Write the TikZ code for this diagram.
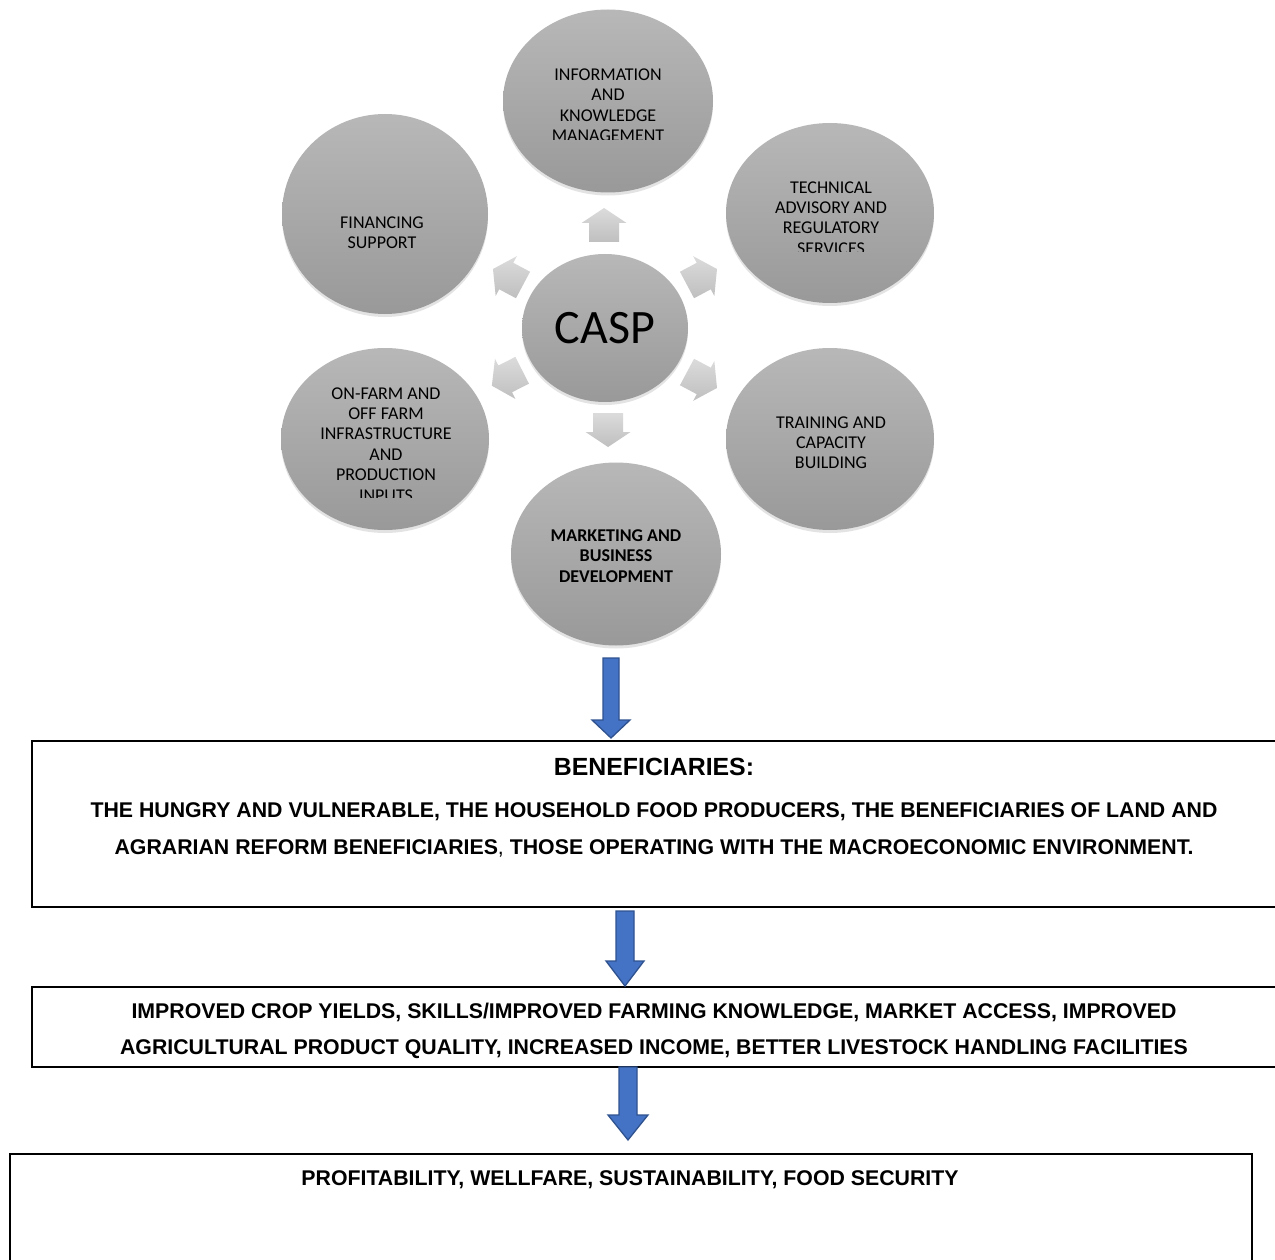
\documentclass[tikz,border=0pt]{standalone}
\usepackage{fontspec}
\setmainfont{Carlito}
\newfontfamily\arialfont{Liberation Sans}
\usetikzlibrary{shapes.geometric,shadows,calc}
\definecolor{bluefill}{HTML}{4472C4}
\definecolor{blueline}{HTML}{2F528F}
\tikzset{
  bubble/.style={ellipse, inner sep=0pt, draw=none, top color=gray!56, bottom color=gray!80,
    drop shadow={shadow xshift=0pt, shadow yshift=-3pt, opacity=0.22}},
  bubtext/.style={align=center, inner sep=0pt, anchor=north, font=\fontsize{18}{20.4}\selectfont},
  grayarr/.style={top color=gray!28, bottom color=gray!50, draw=none},
  frame/.style={draw=black, line width=1.6pt, rectangle, inner sep=0pt},
  boxtext/.style={align=center, inner sep=0pt, anchor=north, font=\arialfont\bfseries\fontsize{21.3}{37}\selectfont},
  bluearrow/.style={fill=bluefill, draw=blueline, line width=1.3pt, line join=miter}
}
\newcommand\grayarrow[2]{%
  \begin{scope}[shift={#1}, rotate=#2-90]
    \path[grayarr] (0,17) -- (22.5,2) -- (15,2) -- (15,-17) -- (-15,-17) -- (-15,2) -- (-22.5,2) -- cycle;
  \end{scope}}
\newcommand\bluearr[5]{%
  \path[bluearrow] ($(#1)+(-#4,0)$) -- ($(#1)+(#4,0)$) -- ($(#2)+(#4,#3)$) -- ($(#2)+(#5,#3)$)
    -- (#2) -- ($(#2)+(-#5,#3)$) -- ($(#2)+(-#4,#3)$) -- cycle;}
\begin{document}
\begin{tikzpicture}[x=1pt,y=1pt]
\useasboundingbox (0,0) rectangle (1275,-1260);
\fill[white] (0,0) rectangle (1275,-1260);

% outer bubbles
\node[bubble, minimum width=210pt, minimum height=183pt] (info) at (608,-101) {};
\node[bubble, minimum width=206pt, minimum height=200pt] (fin) at (385,-214) {};
\node[bubble, minimum width=208pt, minimum height=180pt] (tech) at (830,-213) {};
\node[bubble, minimum width=208pt, minimum height=182pt] (farm) at (385,-439) {};
\node[bubble, minimum width=208pt, minimum height=182pt] (train) at (830,-439) {};
\node[bubble, minimum width=210pt, minimum height=183pt] (mkt) at (616,-554) {};
% centre
\node[bubble, minimum width=166pt, minimum height=148pt, font=\fontsize{48}{50}\selectfont] (casp) at (605,-328) {CASP};

% radial arrows
\grayarrow{(604,-225)}{90}
\grayarrow{(702,-277)}{28}
\grayarrow{(702,-380)}{-28}
\grayarrow{(608,-430)}{-90}
\grayarrow{(507,-378)}{207}
\grayarrow{(508,-277)}{152}

% bubble texts
\begin{scope}
  \clip (500,-60) rectangle (716,-139.5);
  \node[bubtext] (infoT) at (608,-68.7) {INFORMATION\\AND\\KNOWLEDGE\\MANAGEMENT};
\end{scope}
\node[bubtext] (finT) at (382,-216.2) {FINANCING\\SUPPORT};
\begin{scope}
  \clip (724,-170) rectangle (938,-252);
  \node[bubtext] (techT) at (831,-181.2) {TECHNICAL\\ADVISORY AND\\REGULATORY\\SERVICES};
\end{scope}
\begin{scope}
  \clip (279,-370) rectangle (491,-497);
  \node[bubtext] (farmT) at (386,-387.2) {ON-FARM AND\\OFF FARM\\INFRASTRUCTURE\\AND\\PRODUCTION\\INPUTS};
\end{scope}
\node[bubtext] (trainT) at (831,-416.2) {TRAINING AND\\CAPACITY\\BUILDING};
\node[bubtext, font=\bfseries\fontsize{18}{20.6}\selectfont] (mktT) at (616,-529.2) {MARKETING AND\\BUSINESS\\DEVELOPMENT};

% boxes
\node[frame, minimum width=1268pt, minimum height=166pt] (box1) at (666,-824) {};
\node[frame, minimum width=1268pt, minimum height=80pt] (box2) at (666,-1027) {};
\node[frame, minimum width=1242pt, minimum height=140pt] (box3) at (631,-1224) {};

% box texts
\node[inner sep=0pt, anchor=north, font=\arialfont\bfseries\fontsize{24.85}{28}\selectfont] (title) at (654,-758.1) {BENEFICIARIES:};
\node[boxtext] (b1T) at (654,-802.4) {THE HUNGRY AND VULNERABLE, THE HOUSEHOLD FOOD PRODUCERS, THE BENEFICIARIES OF LAND AND\\AGRARIAN REFORM BENEFICIARIES\textmd{,} THOSE OPERATING WITH THE MACROECONOMIC ENVIRONMENT.};
\node[boxtext, font=\arialfont\bfseries\fontsize{21.3}{36}\selectfont] (b2T) at (654,-1002.4) {IMPROVED CROP YIELDS, SKILLS/IMPROVED FARMING KNOWLEDGE, MARKET ACCESS, IMPROVED\\AGRICULTURAL PRODUCT QUALITY, INCREASED INCOME, BETTER LIVESTOCK HANDLING FACILITIES};
\node[boxtext] (b3T) at (630,-1170.4) {PROFITABILITY, WELLFARE, SUSTAINABILITY, FOOD SECURITY};

% blue arrows
\coordinate (a1s) at (611,-658);
\coordinate (a1t) at (611,-738);
\coordinate (a2s) at (625,-911);
\coordinate (a2t) at (625,-986);
\coordinate (a3s) at (628,-1067);
\coordinate (a3t) at (628,-1140);
\bluearr{a1s}{a1t}{18}{8}{19}
\bluearr{a2s}{a2t}{25}{9}{19}
\bluearr{a3s}{a3t}{25}{9}{20}
\end{tikzpicture}
\end{document}
